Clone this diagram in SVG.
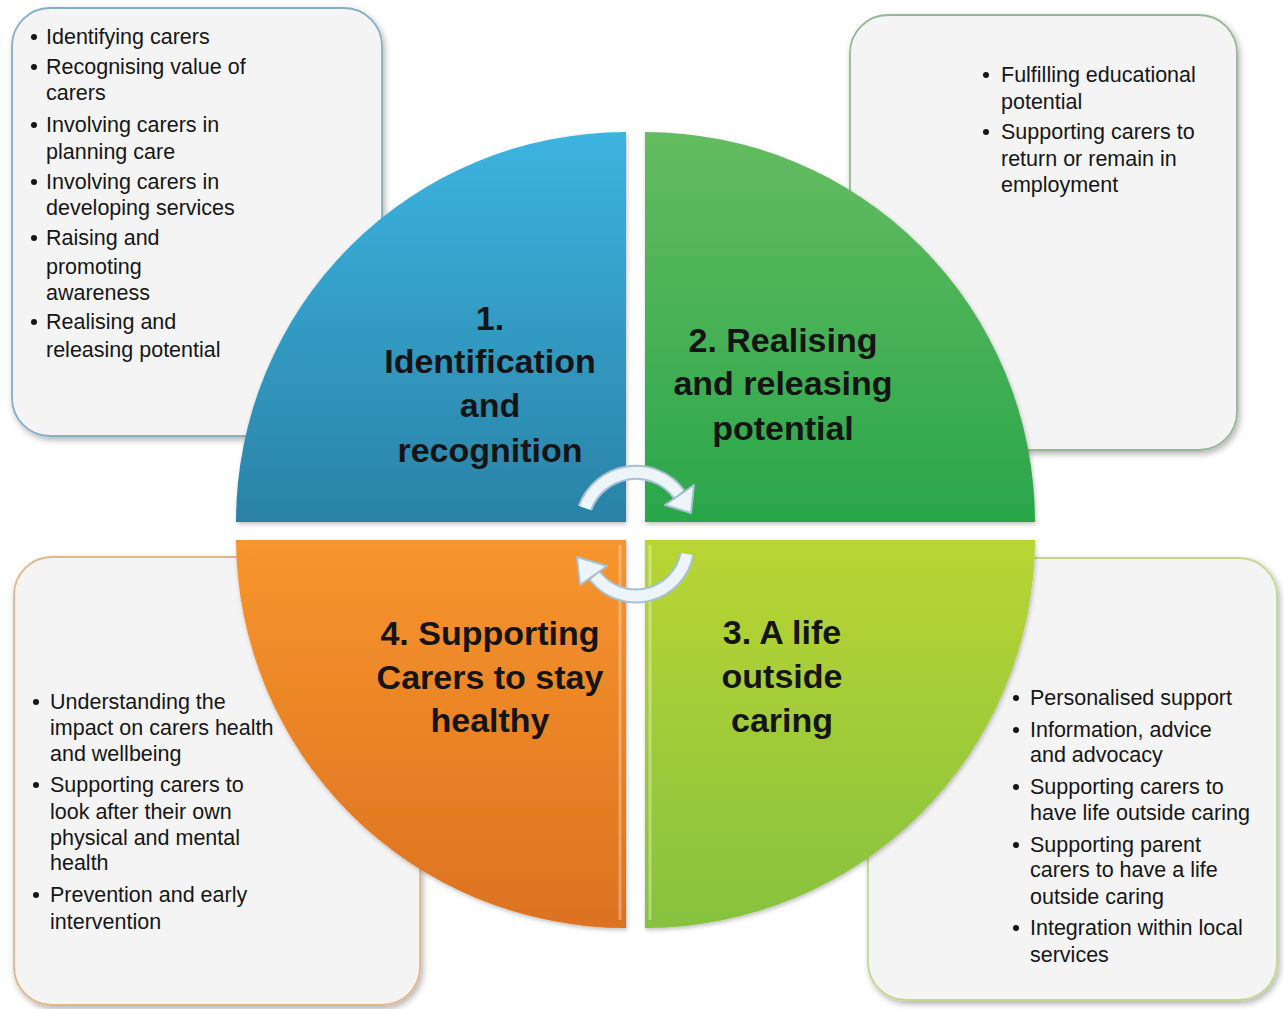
<svg xmlns="http://www.w3.org/2000/svg" width="1284" height="1009" viewBox="0 0 1284 1009">
<defs>
<style>
.box{fill:#f4f4f4;stroke-width:1.8;filter:url(#sh)}
.t{font-family:"Liberation Sans",Arial,sans-serif;font-size:21.5px;fill:#161616}
.h{font-family:"Liberation Sans",Arial,sans-serif;font-size:34px;font-weight:bold;fill:#141414;text-anchor:middle}
.b{fill:#161616}
.q{filter:url(#qs)}
.arO{fill:none;stroke:#a6c1d5;stroke-width:15}
.arI{fill:none;stroke:#eef5fa;stroke-width:11}
.ahd{fill:#eef5fa;stroke:#a6c1d5;stroke-width:2;stroke-linejoin:round}
</style>
<filter id="sh" x="-10%" y="-10%" width="120%" height="120%">
<feDropShadow dx="2" dy="3" stdDeviation="3" flood-color="#000" flood-opacity="0.3"/>
</filter>
<filter id="qs" x="-10%" y="-10%" width="120%" height="120%">
<feDropShadow dx="1" dy="2" stdDeviation="2" flood-color="#000" flood-opacity="0.25"/>
</filter>
<linearGradient id="gB" x1="0" y1="0" x2="0" y2="1"><stop offset="0" stop-color="#3cb4e0"/><stop offset="1" stop-color="#2a82a6"/></linearGradient>
<linearGradient id="gG" x1="0" y1="0" x2="0" y2="1"><stop offset="0" stop-color="#64bc60"/><stop offset="1" stop-color="#2aa64b"/></linearGradient>
<linearGradient id="gO" x1="0" y1="0" x2="0" y2="1"><stop offset="0" stop-color="#f7952d"/><stop offset="1" stop-color="#dc7220"/></linearGradient>
<linearGradient id="gL" x1="0" y1="0" x2="0" y2="1"><stop offset="0" stop-color="#bad533"/><stop offset="1" stop-color="#86c23f"/></linearGradient>
</defs>
<rect width="1284" height="1009" fill="#ffffff"/>

<g id="box-tl">
<rect class="box" x="12" y="8" width="370" height="428" rx="38" stroke="#84afc5"/>
<g class="b"><circle cx="34" cy="37" r="3"/><circle cx="34" cy="67" r="3"/><circle cx="34" cy="125" r="3"/><circle cx="34" cy="182" r="3"/><circle cx="34" cy="238" r="3"/><circle cx="34" cy="322" r="3"/></g>
<text class="t" x="46" y="44">Identifying carers</text>
<text class="t" x="46" y="74">Recognising value of</text>
<text class="t" x="46" y="100">carers</text>
<text class="t" x="46" y="132">Involving carers in</text>
<text class="t" x="46" y="159">planning care</text>
<text class="t" x="46" y="189">Involving carers in</text>
<text class="t" x="46" y="215">developing services</text>
<text class="t" x="46" y="245">Raising and</text>
<text class="t" x="46" y="274">promoting</text>
<text class="t" x="46" y="300">awareness</text>
<text class="t" x="46" y="329">Realising and</text>
<text class="t" x="46" y="357">releasing potential</text>
</g>

<g id="box-tr">
<rect class="box" x="850" y="15" width="387" height="435" rx="38" stroke="#95b894"/>
<g class="b"><circle cx="986" cy="75" r="3"/><circle cx="986" cy="132" r="3"/></g>
<text class="t" x="1001" y="82">Fulfilling educational</text>
<text class="t" x="1001" y="109">potential</text>
<text class="t" x="1001" y="139">Supporting carers to</text>
<text class="t" x="1001" y="166">return or remain in</text>
<text class="t" x="1001" y="192">employment</text>
</g>

<g id="box-bl">
<rect class="box" x="14" y="557" width="406" height="448" rx="38" stroke="#e6b585"/>
<g class="b"><circle cx="36" cy="702" r="3"/><circle cx="36" cy="785" r="3"/><circle cx="36" cy="895" r="3"/></g>
<text class="t" x="50" y="709">Understanding the</text>
<text class="t" x="50" y="735">impact on carers health</text>
<text class="t" x="50" y="761">and wellbeing</text>
<text class="t" x="50" y="792">Supporting carers to</text>
<text class="t" x="50" y="819">look after their own</text>
<text class="t" x="50" y="845">physical and mental</text>
<text class="t" x="50" y="870">health</text>
<text class="t" x="50" y="902">Prevention and early</text>
<text class="t" x="50" y="929">intervention</text>
</g>

<g id="box-br">
<rect class="box" x="868" y="558" width="409" height="442" rx="38" stroke="#c4d78a"/>
<g class="b"><circle cx="1016" cy="698" r="3"/><circle cx="1016" cy="730" r="3"/><circle cx="1016" cy="787" r="3"/><circle cx="1016" cy="845" r="3"/><circle cx="1016" cy="928" r="3"/></g>
<text class="t" x="1030" y="705">Personalised support</text>
<text class="t" x="1030" y="737">Information, advice</text>
<text class="t" x="1030" y="762">and advocacy</text>
<text class="t" x="1030" y="794">Supporting carers to</text>
<text class="t" x="1030" y="820">have life outside caring</text>
<text class="t" x="1030" y="852">Supporting parent</text>
<text class="t" x="1030" y="877">carers to have a life</text>
<text class="t" x="1030" y="904">outside caring</text>
<text class="t" x="1030" y="935">Integration within local</text>
<text class="t" x="1030" y="962">services</text>
</g>

<g id="q1">
<path class="q" d="M626 522 L236 522 A390 390 0 0 1 626 132 Z" fill="url(#gB)"/>
<text class="h" x="490" y="330">1.</text>
<text class="h" x="490" y="373">Identification</text>
<text class="h" x="490" y="417">and</text>
<text class="h" x="490" y="462">recognition</text>
</g>
<g id="q2">
<path class="q" d="M645 522 L645 132 A390 390 0 0 1 1035 522 Z" fill="url(#gG)"/>
<text class="h" x="783" y="352">2. Realising</text>
<text class="h" x="783" y="395">and releasing</text>
<text class="h" x="783" y="440">potential</text>
</g>
<g id="q3">
<path class="q" d="M645 540 L1035 540 A390 390 0 0 1 645 928 Z" fill="url(#gL)"/>
<line x1="650" y1="545" x2="650" y2="920" stroke="#ffffff" stroke-opacity="0.35" stroke-width="3"/>
<text class="h" x="782" y="644">3. A life</text>
<text class="h" x="782" y="688">outside</text>
<text class="h" x="782" y="732">caring</text>
</g>
<g id="q4">
<path class="q" d="M626 540 L626 928 A390 390 0 0 1 236 540 Z" fill="url(#gO)"/>
<line x1="620" y1="545" x2="620" y2="920" stroke="#ffffff" stroke-opacity="0.3" stroke-width="3"/>
<text class="h" x="490" y="645">4. Supporting</text>
<text class="h" x="490" y="689">Carers to stay</text>
<text class="h" x="490" y="732">healthy</text>
</g>

<g id="connectors">
<path class="arO" d="M585 508 A54 54 0 0 1 679 494"/>
<path class="arI" d="M585 508 A54 54 0 0 1 679 494"/>
<polygon class="ahd" points="694,485 665,505 691,513"/>
<path class="arO" d="M687 554 A52 52 0 0 1 595 576"/>
<path class="arI" d="M687 554 A52 52 0 0 1 595 576"/>
<polygon class="ahd" points="580,585 607,566 577,557"/>
</g>
</svg>
